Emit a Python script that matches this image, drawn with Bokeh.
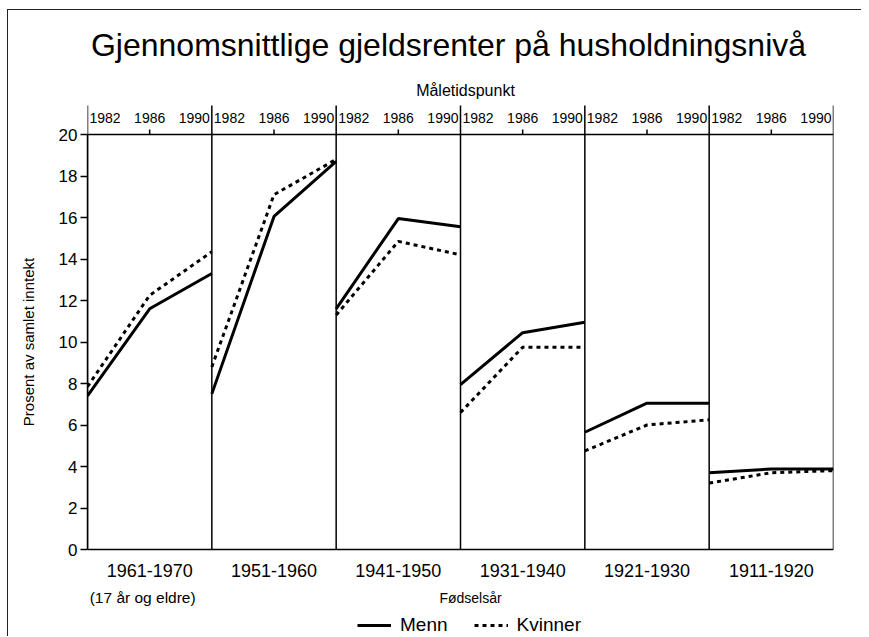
import math
from bokeh.plotting import figure
from bokeh.models import Range1d, FixedTicker, Span, Legend, LegendItem
from bokeh.core.properties import value
from bokeh.layouts import row
from bokeh.embed import file_html
from bokeh.resources import INLINE

# ---------------- data ----------------
title_text = "Gjennomsnittlige gjeldsrenter på husholdningsnivå"
top_title = "Måletidspunkt"
bottom_title = "Fødselsår"
first_note = "(17 år og eldre)"
y_title = "Prosent av samlet inntekt"
cohorts = ["1961-1970", "1951-1960", "1941-1950", "1931-1940", "1921-1930", "1911-1920"]
years = [1982, 1986, 1990]
menn = [
    [7.4, 11.6, 13.3],
    [7.5, 16.05, 18.7],
    [11.6, 15.95, 15.55],
    [7.95, 10.45, 10.95],
    [5.65, 7.05, 7.05],
    [3.7, 3.88, 3.88],
]
kvinner = [
    [7.85, 12.25, 14.35],
    [8.8, 17.1, 18.8],
    [11.3, 14.85, 14.2],
    [6.6, 9.75, 9.75],
    [4.75, 6.0, 6.25],
    [3.2, 3.7, 3.8],
]
y_ticks = [0, 2, 4, 6, 8, 10, 12, 14, 16, 18, 20]
series_names = ["Menn", "Kvinner"]

FONT = "Liberation Sans"
span = years[-1] - years[0]
n = len(cohorts)
ymax = y_ticks[-1]

# layout geometry (pixels)
FRAME_W = 746.0
PPU = 415.0 / ymax          # pixels per y unit
TOP_PX = 124.0              # space above y=ymax inside the frame
BOT_PX = 87.0               # space below y=0 inside the frame
FIG_H = 626


def dx(px):
    return px / FRAME_W * (n * span)


def dy(px):
    return px / PPU


yr_shared = Range1d(-dy(BOT_PX), ymax + dy(TOP_PX))

p = figure(width=813, height=FIG_H,
           x_range=Range1d(0, n * span), y_range=yr_shared,
           output_backend="svg", toolbar_location=None,
           x_axis_location=None, y_axis_location="left",
           min_border_left=39, min_border_right=28, min_border_top=0, min_border_bottom=0)
p.grid.visible = False
p.outline_line_color = None

# left axis
ya = p.yaxis[0]
ya.bounds = (0, ymax)
ya.ticker = FixedTicker(ticks=y_ticks)
ya.minor_tick_line_color = None
ya.major_tick_out = 7
ya.major_tick_in = 0
ya.major_tick_line_width = 1.5
ya.axis_line_width = 1.5
ya.major_label_text_font = FONT
ya.major_label_text_font_size = "17px"
ya.major_label_text_color = "black"
ya.major_label_standoff = 3

centers = [i * span + span / 2 for i in range(n)]
bounds = [i * span for i in range(n + 1)]

# panel frame: top and bottom lines
p.add_layout(Span(location=ymax, dimension="width", line_color="black", line_width=1.5))
p.add_layout(Span(location=0, dimension="width", line_color="black", line_width=1.5))
# panel separators extending above as tall ticks
p.segment(x0=bounds, y0=[0] * len(bounds), x1=bounds, y1=[ymax + dy(29)] * len(bounds),
          line_color="black", line_width=1.5)
# mid-year ticks
p.segment(x0=centers, y0=[ymax] * n, x1=centers, y1=[ymax + dy(5)] * n,
          line_color="black", line_width=1.5)

# series
r_menn, r_kv = [], []
for i in range(n):
    xs = [i * span + (yr - years[0]) for yr in years]
    r_kv.append(p.line(xs, kvinner[i], line_width=3, line_color="black",
                       line_dash="4 4", line_cap="butt"))
    r_menn.append(p.line(xs, menn[i], line_width=3, line_color="black"))

# year labels on top
aligns = ["left", "center", "right"]
offs = [2, 0, -2]
for j, yr in enumerate(years):
    xs = [i * span + (yr - years[0]) for i in range(n)]
    p.text(x=xs, y=[ymax + dy(17)] * n, text=[str(yr)] * n, x_offset=offs[j],
           text_align=aligns[j], text_baseline="middle",
           text_font=value(FONT), text_font_size=value("14px"), text_color="black")

# cohort labels
p.text(x=centers, y=[-dy(21)] * n, text=cohorts, text_align="center", text_baseline="middle",
       text_font=value(FONT), text_font_size=value("18px"), text_color="black")

mid = n * span / 2
# titles and notes
p.text(x=[mid - dx(12)], y=[ymax + dy(90)], text=[title_text], text_align="center",
       text_baseline="middle", text_font=value(FONT), text_font_size=value("32px"),
       text_color="black")
p.text(x=[mid + dx(5)], y=[ymax + dy(44)], text=[top_title], text_align="center",
       text_baseline="middle", text_font=value(FONT), text_font_size=value("16px"),
       text_color="black")
p.text(x=[centers[0] - dx(7)], y=[-dy(48)], text=[first_note], text_align="center",
       text_baseline="middle", text_font=value(FONT), text_font_size=value("15.5px"),
       text_color="black")
p.text(x=[mid + dx(10)], y=[-dy(48)], text=[bottom_title], text_align="center",
       text_baseline="middle", text_font=value(FONT), text_font_size=value("14px"),
       text_color="black")

# legend
leg = Legend(items=[LegendItem(label=series_names[0], renderers=[r_menn[0]]),
                    LegendItem(label=series_names[1], renderers=[r_kv[0]])],
             orientation="horizontal", location=(270, 0),
             glyph_width=34, glyph_height=20, label_standoff=9, spacing=26,
             padding=0, margin=0, border_line_color=None, background_fill_alpha=0,
             label_text_font=FONT, label_text_font_size="19px", label_text_color="black")
p.add_layout(leg)

# y-axis title strip (centred on the 0..ymax band)
lf = figure(width=40, height=FIG_H, x_range=Range1d(0, 1), y_range=yr_shared,
            output_backend="svg", toolbar_location=None,
            x_axis_location=None, y_axis_location=None, min_border=0)
lf.grid.visible = False
lf.outline_line_color = None
lf.text(x=[0.5], y=[ymax / 2], text=[y_title], angle=math.pi / 2,
        text_align="center", text_baseline="middle",
        text_font=value(FONT), text_font_size=value("15px"), text_color="black")

layout = row(lf, p, spacing=0,
             styles={"margin-left": "7px", "margin-top": "9px",
                     "border-left": "1px solid #222", "border-top": "1px solid #222"})

open("out.html", "w").write(file_html(layout, INLINE))
